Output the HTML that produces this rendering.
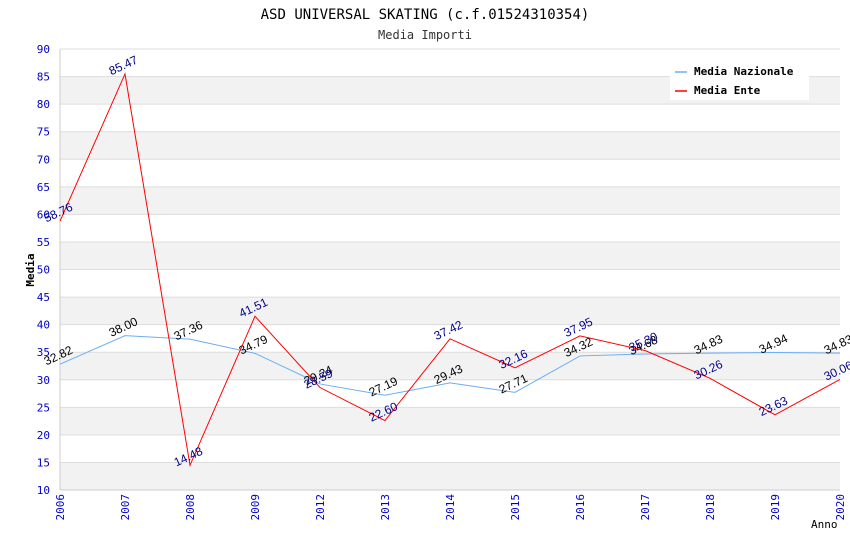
<!DOCTYPE html>
<html><head><meta charset="utf-8"><style>
body{margin:0;background:#fff;}
svg{display:block;font-family:"DejaVu Sans Mono","Liberation Mono",monospace;}
</style></head><body>
<svg id="c" width="850" height="550" xmlns="http://www.w3.org/2000/svg">
<text x="425" y="19" text-anchor="middle" font-size="14" fill="#000">ASD UNIVERSAL SKATING (c.f.01524310354)</text>
<text x="425" y="39" text-anchor="middle" font-size="12" fill="#333">Media Importi</text>
<g id="grid"></g>
<g id="axes"></g>
<g id="series"></g>
<text x="34" y="270" transform="rotate(-90 34 270)" text-anchor="middle" font-size="11" font-weight="bold" fill="#000">Media</text>
<text x="811" y="528" font-size="11" fill="#000">Anno</text>
<g>
<rect x="670" y="60" width="139" height="40" fill="#fff"/>
<g><line x1="675" y1="72" x2="687" y2="72" stroke="#6aaef5" stroke-width="1.5"/><text x="694" y="75" font-size="11" font-weight="bold">Media Nazionale</text></g>
<g><line x1="675" y1="91" x2="687" y2="91" stroke="#ff0000" stroke-width="1.5"/><text x="694" y="94" font-size="11" font-weight="bold">Media Ente</text></g>
</g>
</svg>
<script>
const categories=["2006","2007","2008","2009","2012","2013","2014","2015","2016","2017","2018","2019","2020"];
const nazionale=[32.82,38.00,37.36,34.79,29.24,27.19,29.43,27.71,34.32,34.68,34.83,34.94,34.83];
const ente=[58.76,85.47,14.48,41.51,28.59,22.60,37.42,32.16,37.95,35.30,30.26,23.63,30.06];
const yTicks=[10,15,20,25,30,35,40,45,50,55,60,65,70,75,80,85,90];
const NS="http://www.w3.org/2000/svg";
const L=60,R=840,T=49,B=490,yMin=10,yMax=90;
const xs=i=>L+(R-L)*i/(categories.length-1);
const ys=v=>B-(v-yMin)/(yMax-yMin)*(B-T);
function mk(t,a,p){const e=document.createElementNS(NS,t);for(const k in a)e.setAttribute(k,a[k]);p.appendChild(e);return e;}
const grid=document.getElementById('grid'),axes=document.getElementById('axes'),ser=document.getElementById('series');
const nb=yTicks.length-1;
for(let i=0;i<nb;i++){
 const y1=ys(yTicks[i+1]),y0=ys(yTicks[i]);
 const band=mk('rect',{x:L,y:y1,width:R-L,height:y0-y1,fill:((nb-1-i)%2===0)?'#fff':'#f2f2f2'},grid);
 
 
}
yTicks.forEach(v=>{
 const gl=mk('line',{x1:L,x2:R,y1:ys(v),y2:ys(v),stroke:'#ddd','stroke-width':1},grid);
 
 
 const t=mk('text',{x:L-10,y:ys(v)+4,'text-anchor':'end','font-size':11,fill:'#0000cc'},axes);
 t.textContent=v;
 
 
});
const ax=mk('line',{x1:L,x2:L,y1:T,y2:B,stroke:'#ccc'},axes);


const bx=mk('line',{x1:L,x2:R,y1:B,y2:B,stroke:'#ccc'},axes);


categories.forEach((c,i)=>{
 const x=xs(i)+4,y=B+4;
 const t=mk('text',{x:x,y:y,transform:`rotate(-90 ${x} ${y})`,'text-anchor':'end','font-size':11,fill:'#0000cc'},axes);
 t.textContent=c;
 
 
});
function series(data,color,lblColor,name){
 const p=mk('polyline',{points:data.map((v,i)=>xs(i)+','+ys(v)).join(' '),fill:'none',stroke:color,'stroke-width':1},ser);
 
 
 data.forEach((v,i)=>{
  const x=xs(i),y=ys(v)-5;
  const t=mk('text',{x:x,y:y,transform:`rotate(-25 ${x} ${y})`,'text-anchor':'middle','font-size':12,fill:lblColor,'font-family':'"Liberation Sans",sans-serif'},ser);
  t.textContent=v.toFixed(2);
  
  
 });
}
series(nazionale,'#6aaef5','#000','nazionale');
series(ente,'#ff0000','#00008b','ente');
</script>
</body></html>
